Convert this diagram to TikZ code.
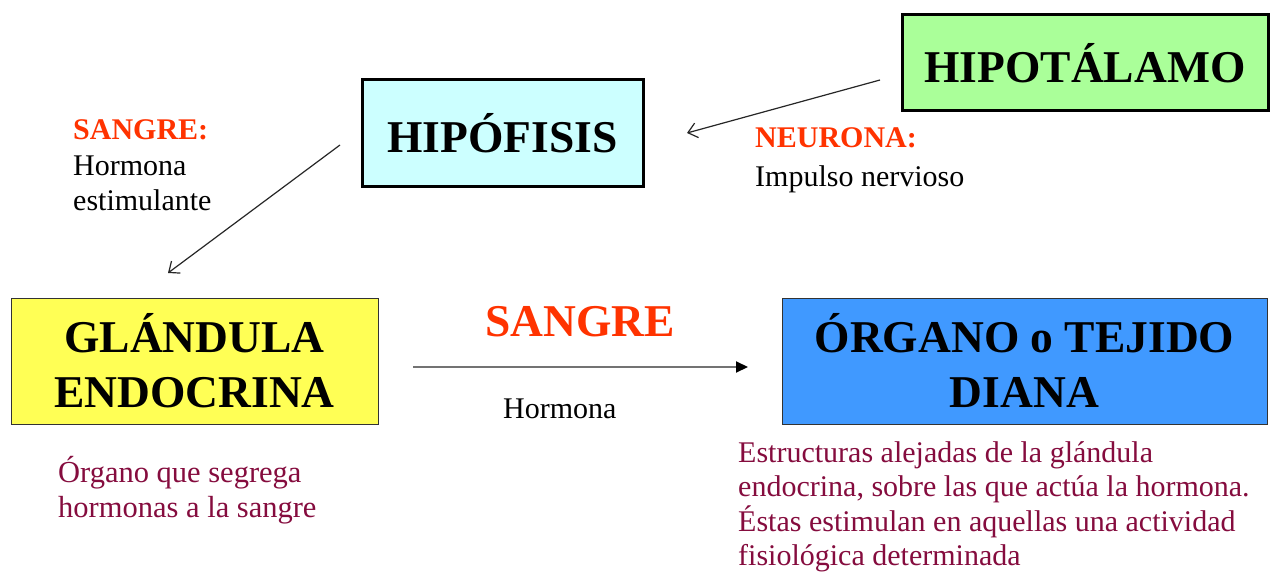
\documentclass[tikz,border=0pt]{standalone}
\usepackage{fontspec}
\setmainfont{Liberation Serif}
\usetikzlibrary{arrows.meta}
\definecolor{hred}{RGB}{255,51,0}
\definecolor{hmaroon}{RGB}{133,12,62}
\definecolor{gfill}{RGB}{170,255,153}
\definecolor{cfill}{RGB}{204,255,255}
\definecolor{yfill}{RGB}{255,255,85}
\definecolor{bfill}{RGB}{64,153,255}
\begin{document}
\begin{tikzpicture}[x=1pt,y=-1pt,
  thickbox/.style={draw=black,line width=3pt,inner sep=0pt,align=center,
    font=\fontsize{45.5}{55}\selectfont\bfseries},
  thinbox/.style={draw=black!80,line width=1pt,inner sep=0pt,align=center,
    font=\fontsize{45.5}{55}\selectfont\bfseries},
  lbl/.style={anchor=base west,inner sep=0pt,align=left,
    font=\fontsize{30}{35}\selectfont},
  redlbl/.style={lbl,text=hred,font=\fontsize{30}{35}\selectfont\bfseries},
  notelbl/.style={lbl,text=hmaroon,font=\fontsize{30.5}{34.5}\selectfont},
  thinarrow/.style={-{Straight Barb[length=9,width=15]},line width=1.2pt,black!85},
  bigarrow/.style={-{Triangle[length=12,width=11,color=black]},line width=2pt,black!55}
]
\useasboundingbox[fill=white] (0,0) rectangle (1271,577);

% boxes
\node[thickbox,fill=gfill,minimum width=366,minimum height=96] (hipot) at (1085,63) {HIPOTÁLAMO};
\node[thickbox,fill=cfill,minimum width=281,minimum height=107] (hipof) at (502.5,133.5) {HIPÓFISIS};
\node[thinbox,fill=yfill,minimum width=367,minimum height=126] (gland) at (194.5,361) {GLÁNDULA\\ENDOCRINA};
\node[thinbox,fill=bfill,minimum width=485,minimum height=126] (organo) at (1024.5,361) {ÓRGANO o TEJIDO\\DIANA};

% arrow end points
\coordinate (a1s) at (880,80);
\coordinate (a1e) at (687,133);
\coordinate (a2s) at (340,145);
\coordinate (a2e) at (168,273);
\coordinate (a3s) at (413,367);
\coordinate (a3e) at (748,367);

\draw[thinarrow] (a1s) -- (a1e);
\draw[thinarrow] (a2s) -- (a2e);
\draw[bigarrow] (a3s) -- (a3e);

% labels (multi-line nodes: base = last line's baseline)
\node[redlbl] (sangre1) at (73,140) {SANGRE:};
\node[lbl] (hest) at (73,211) {Hormona\\estimulante};
\node[redlbl] (neurona) at (755,148) {NEURONA:};
\node[lbl] (impulso) at (755,187) {Impulso nervioso};
\node[anchor=base,inner sep=0pt,text=hred,font=\fontsize{45.5}{50}\selectfont\bfseries] (sangre2) at (580,336) {SANGRE};
\node[lbl] (hormona) at (503,418) {Hormona};
\node[notelbl] (nota1) at (58,517) {Órgano que segrega\\hormonas a la sangre};
\node[notelbl,font=\fontsize{30}{34.5}\selectfont] (nota2) at (738,565.5) {Estructuras alejadas de la glándula\\endocrina, sobre las que actúa la hormona.\\Éstas estimulan en aquellas una actividad\\fisiológica determinada};
\end{tikzpicture}
\end{document}
